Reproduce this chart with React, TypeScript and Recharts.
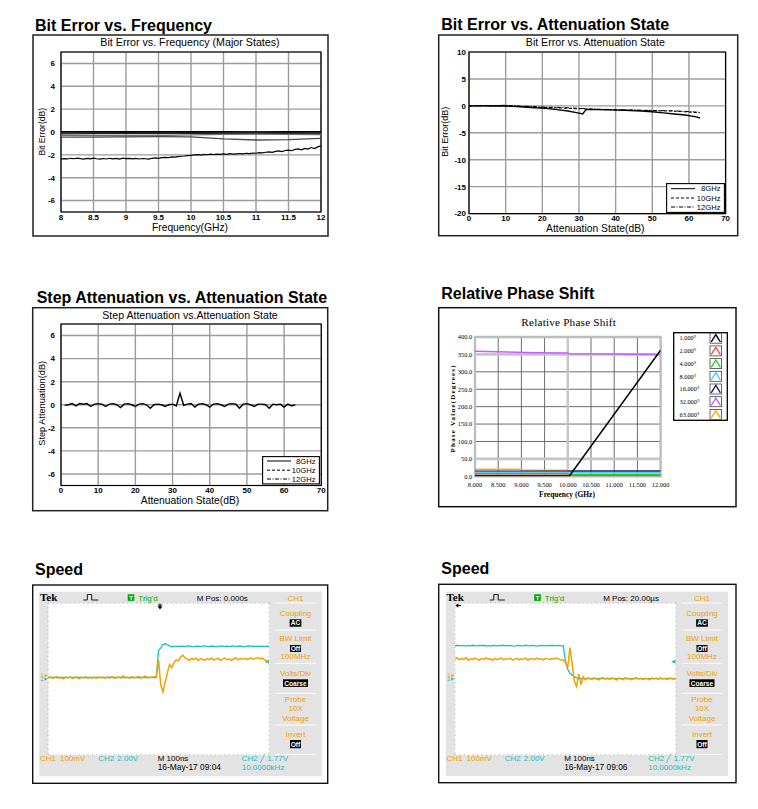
import React from 'react';
import { LineChart, Line, XAxis, YAxis, CartesianGrid, ReferenceArea, ReferenceLine, Legend } from 'recharts';

const SANS = '"Liberation Sans", Arial, Helvetica, sans-serif';
const SERIF = '"Liberation Serif", "Times New Roman", serif';
const ORANGE = '#f2a100';
const CYAN = '#1dbdbd';
const MENU_ORANGE = '#f0a000';
const TRIG_GREEN = '#00a800';

// ---------- Chart 1: Bit Error vs. Frequency ----------
const freqTicks = [8, 8.5, 9, 9.5, 10, 10.5, 11, 11.5, 12];
const bitErrTicks = [-6, -4, -2, 0, 2, 4, 6];
const freqCoarse = [8, 8.5, 9, 9.5, 10, 10.5, 11, 11.5, 12];
const majorState0 = [0.03, 0.02, 0.03, 0.02, 0.03, 0.02, 0.01, 0.02, 0.03];
const majorState1 = [-0.07, -0.08, -0.06, -0.07, -0.06, -0.08, -0.07, -0.06, -0.07];
const majorState2 = [-0.16, -0.15, -0.14, -0.13, -0.12, -0.13, -0.14, -0.13, -0.12];
const majorState3 = [-0.3, -0.32, -0.33, -0.31, -0.26, -0.2, -0.18, -0.2, -0.22];
const majorState4 = [-0.45, -0.44, -0.42, -0.4, -0.42, -0.6, -0.7, -0.66, -0.55];
const freqFineStart = 8;
const freqFineStep = 0.05;
const majorState5 = [
  -2.38, -2.33, -2.36, -2.3, -2.34, -2.28, -2.33, -2.37, -2.31, -2.35,
  -2.29, -2.34, -2.38, -2.32, -2.36, -2.3, -2.35, -2.31, -2.37, -2.29,
  -2.33, -2.3, -2.35, -2.31, -2.36, -2.32, -2.34, -2.38, -2.3, -2.27,
  -2.31, -2.24, -2.22, -2.25, -2.18, -2.2, -2.15, -2.12, -2.1, -2.06,
  -2.04, -2.01, -1.98, -2.02, -1.96, -1.99, -1.94, -1.97, -1.93, -1.96,
  -1.92, -1.95, -1.9, -1.94, -1.91, -1.88, -1.92, -1.86, -1.89, -1.84,
  -1.86, -1.8, -1.83, -1.77, -1.74, -1.78, -1.7, -1.66, -1.71, -1.62,
  -1.58, -1.64, -1.52, -1.48, -1.56, -1.43, -1.5, -1.36, -1.45, -1.3,
  -1.22,
];

// ---------- Chart 2: Bit Error vs. Attenuation State ----------
const attTicks = [0, 10, 20, 30, 40, 50, 60, 70];
const bitErrAttTicks = [-20, -15, -10, -5, 0, 5, 10];
const att8Ghz = [0, 3, 6, 9, 12, 15, 18, 21, 24, 27, 30, 31, 32, 35, 38, 41, 44, 47, 50, 53, 56, 59, 62, 63];
const bitErr8Ghz = [-0.05, 0.05, -0.02, 0.02, -0.1, -0.2, -0.35, -0.45, -0.7, -0.95, -1.35, -1.5, -0.65, -0.7, -0.75, -0.8, -0.85, -0.95, -1.1, -1.3, -1.5, -1.7, -2.05, -2.25];
const att10Ghz = [0, 5, 10, 15, 20, 25, 30, 31, 32, 40, 50, 55, 60, 63];
const bitErr10Ghz = [-0.02, 0.03, 0.05, -0.15, -0.3, -0.4, -0.55, -0.5, -0.6, -0.75, -0.9, -0.95, -1.15, -1.3];
const att12Ghz = [0, 5, 10, 15, 20, 25, 30, 32, 40, 50, 55, 60, 63];
const bitErr12Ghz = [0, 0.05, 0.1, -0.05, -0.2, -0.3, -0.45, -0.55, -0.7, -0.85, -0.9, -1.05, -1.2];
const freqLegendNames = ['8GHz', '10GHz', '12GHz'];
const freqLegendDash = ['', '3 2', '4 1.5 1 1.5'];

// ---------- Chart 3: Step Attenuation vs. Attenuation State ----------
const stepTicksY = [-6, -4, -2, 0, 2, 4, 6];
const stepFirstState = 1;
const stepErr8Ghz = [
  -0.05, 0.0, 0.1, -0.1, 0.1, 0.05, 0.1, -0.15, 0.05, 0.1,
  0.05, -0.15, 0.05, 0.1, 0.0, -0.25, 0.05, 0.1, 0.0, -0.15,
  0.05, 0.1, 0.0, -0.3, 0.0, 0.05, 0.0, -0.15, 0.0, 0.05,
  -0.1, 1.0, -0.05, 0.05, 0.1, -0.2, 0.05, 0.1, 0.0, -0.2,
  0.05, 0.1, 0.0, -0.15, 0.05, 0.1, 0.05, -0.3, 0.05, 0.1,
  0.0, -0.15, 0.05, 0.05, 0.0, -0.3, 0.05, 0.0, 0.05, -0.2,
  0.05, -0.1, 0.0,
];

// ---------- Chart 4: Relative Phase Shift ----------
const phaseFreqTicks = [8, 8.5, 9, 9.5, 10, 10.5, 11, 11.5, 12];
const phaseTicks = [0, 50, 100, 150, 200, 250, 300, 350, 400];
const phaseNames = ['1.000°', '2.000°', '4.000°', '8.000°', '16.000°', '32.000°', '63.000°'];
const phaseColors = ['#000000', '#ff4a4a', '#22d022', '#5ac8ff', '#1c1c70', '#c95cff', '#ffab10'];
const ph1Freq = [8, 10, 10.03, 12];
const ph1Val = [0.5, 0.5, 0, 362];
const ph2Freq = [8, 10, 10.03, 12];
const ph2Val = [3, 3, 1.5, 1.5];
const ph4Freq = [8, 10, 10.03, 12];
const ph4Val = [7.5, 7.5, 5.5, 5.5];
const ph8Freq = [8, 10, 10.03, 12];
const ph8Val = [11.5, 11.5, 10, 10];
const ph16Freq = [8, 10, 10.03, 12];
const ph16Val = [14.5, 14.5, 15, 15];
const ph32Freq = [8, 8.7, 9.3, 10, 10.03, 11, 12];
const ph32Val = [359, 357, 355, 354, 352, 351, 350];
const ph63Freq = [8, 9, 9.02, 10];
const ph63Val = [20, 20, 18, 17.5];

// ---------- Charts 5/6: oscilloscope captures (divisions) ----------
const divTicksX = [0, 1, 2, 3, 4, 5, 6, 7, 8, 9, 10];
const divTicksY = [-4, -3, -2, -1, 0, 1, 2, 3, 4];
const scopeStep = 0.1;
const scope1Ch1 = [
  0.05, 0.1, 0.02, 0.08, 0.12, 0.04, 0.07, 0.0, 0.09, 0.05,
  0.11, 0.03, 0.06, 0.1, 0.01, 0.08, 0.05, 0.12, 0.03, 0.07,
  0.04, 0.09, 0.02, 0.11, 0.06, 0.08, 0.03, 0.1, 0.05, 0.13,
  0.02, 0.07, 0.1, 0.04, 0.15, 0.06, 0.09, 0.02, 0.11, 0.05,
  0.08, 0.12, 0.04, 0.09, 0.14, 0.05, 0.1, 0.07, 0.12, 0.08,
  1.0, -0.3, -0.7, -0.2, 0.3, 0.75, 0.6, 0.85, 1.0, 0.95,
  1.15, 1.25, 1.1, 1.04, 0.98, 1.08, 1.02, 1.1, 0.96, 1.06,
  1.03, 0.97, 1.07, 1.01, 1.1, 0.99, 1.05, 1.08, 0.98, 1.04,
  1.09, 1.01, 1.06, 0.97, 1.05, 1.1, 1.0, 1.07, 1.03, 1.08,
  1.02, 1.06, 1.11, 1.04, 1.08, 1.12, 1.05, 1.09, 1.0, 0.95,
  0.92,
];
const scope1Ch2 = [
  0.07, 0.07, 0.07, 0.07, 0.07, 0.07, 0.07, 0.07, 0.07, 0.07,
  0.07, 0.07, 0.07, 0.07, 0.07, 0.07, 0.07, 0.07, 0.07, 0.07,
  0.07, 0.07, 0.07, 0.07, 0.07, 0.07, 0.07, 0.07, 0.07, 0.07,
  0.07, 0.07, 0.07, 0.07, 0.07, 0.07, 0.07, 0.07, 0.07, 0.07,
  0.07, 0.07, 0.07, 0.07, 0.07, 0.07, 0.07, 0.07, 0.07, 0.07,
  1.5, 1.62, 1.8, 1.86, 1.8, 1.74, 1.68, 1.72, 1.7, 1.73,
  1.71, 1.73, 1.7, 1.72, 1.74, 1.71, 1.69, 1.72, 1.73, 1.7,
  1.72, 1.74, 1.71, 1.7, 1.73, 1.72, 1.69, 1.71, 1.74, 1.72,
  1.7, 1.73, 1.71, 1.72, 1.74, 1.7, 1.72, 1.73, 1.71, 1.69,
  1.72, 1.74, 1.71, 1.73, 1.7, 1.72, 1.71, 1.73, 1.7, 1.72,
  1.71,
];
const scope2Ch1 = [
  1.05, 1.1, 1.0, 1.08, 1.03, 1.12, 0.98, 1.06, 1.02, 1.09,
  1.04, 0.99, 1.07, 1.01, 1.1, 1.03, 1.06, 0.97, 1.08, 1.02,
  1.05, 1.11, 1.0, 1.06, 1.03, 1.09, 0.99, 1.04, 1.08, 1.01,
  1.06, 1.02, 1.1, 0.98, 1.05, 1.07, 1.01, 1.09, 1.03, 1.06,
  1.0, 1.08, 1.04, 1.02, 1.07, 1.05, 1.1, 1.03, 1.01, 0.98,
  0.9, 0.6, 1.65, 0.8, -0.1, -0.4, 0.25, -0.3, 0.1, -0.05,
  0.05, 0.02, -0.04, 0.06, 0.0, -0.05, 0.03, 0.07, -0.02, 0.04,
  -0.03, 0.05, 0.01, -0.06, 0.04, 0.02, -0.04, 0.06, 0.0, 0.03,
  -0.05, 0.02, 0.06, -0.02, 0.04, -0.04, 0.03, 0.01, -0.05, 0.05,
  0.0, 0.04, -0.03, 0.06, -0.01, 0.03, -0.04, 0.05, 0.02, -0.02,
  0.03,
];
const scope2Ch2 = [
  1.75, 1.77, 1.74, 1.76, 1.75, 1.73, 1.76, 1.74, 1.77, 1.75,
  1.74, 1.76, 1.75, 1.77, 1.74, 1.75, 1.73, 1.76, 1.75, 1.74,
  1.76, 1.75, 1.77, 1.74, 1.75, 1.76, 1.74, 1.73, 1.75, 1.76,
  1.74, 1.75, 1.77, 1.75, 1.74, 1.76, 1.75, 1.73, 1.75, 1.76,
  1.75, 1.74, 1.76, 1.75, 1.77, 1.74, 1.75, 1.76, 1.74, 1.75,
  0.9, 0.5, 0.3, 0.2, 0.1, 0.05, 0.01, 0.01, 0.01, 0.01,
  0.01, 0.01, 0.01, 0.01, 0.01, 0.01, 0.01, 0.01, 0.01, 0.01,
  0.01, 0.01, 0.01, 0.01, 0.01, 0.01, 0.01, 0.01, 0.01, 0.01,
  0.01, 0.01, 0.01, 0.01, 0.01, 0.01, 0.01, 0.01, 0.01, 0.01,
  0.01, 0.01, 0.01, 0.01, 0.01, 0.01, 0.01, 0.01, 0.01, 0.01,
  0.01,
];

// ---------- tables ----------
const pairs = (xs: number[], ys: number[]) => xs.map((x, i) => ({ x, y: ys[i] }));
const c1Lines = [majorState0, majorState1, majorState2, majorState3, majorState4].map((ys) => pairs(freqCoarse, ys));
const c1Colors = ['#000', '#111', '#222', '#6e6e6e', '#4a4a4a'];
const c1Noisy = majorState5.map((y, i) => ({ x: freqFineStart + i * freqFineStep, y }));
const c2Tables = [pairs(att8Ghz, bitErr8Ghz), pairs(att10Ghz, bitErr10Ghz), pairs(att12Ghz, bitErr12Ghz)];
const c3Table = stepErr8Ghz.map((y, i) => ({ x: stepFirstState + i, y }));
const phaseTables = [
  pairs(ph63Freq, ph63Val),
  pairs(ph16Freq, ph16Val),
  pairs(ph8Freq, ph8Val),
  pairs(ph4Freq, ph4Val),
  pairs(ph2Freq, ph2Val),
  pairs(ph32Freq, ph32Val),
  pairs(ph1Freq, ph1Val),
];
const phaseTableColors = [phaseColors[6], phaseColors[4], phaseColors[3], phaseColors[2], phaseColors[1], phaseColors[5], phaseColors[0]];
const scopeTable = (vals: number[]) => vals.map((v, i) => ({ x: i * scopeStep, y: v }));

const tickStyle = { fontSize: 8, fontFamily: SANS, fontWeight: 700, fill: '#000' };
const phaseTickStyle = { fontSize: 6.4, fontFamily: SERIF, fill: '#000' };

const FreqLegend = ({ w, h, rows }: { w: number; h: number; rows: number[] }) => (
  <svg width={w} height={h} style={{ display: 'block' }}>
    <rect x={0.6} y={0.6} width={w - 1.2} height={h - 1.2} fill="#fff" stroke="#000" strokeWidth={1.1} />
    {freqLegendNames.map((n, i) => (
      <g key={n}>
        <line x1={5} x2={29} y1={rows[i]} y2={rows[i]} stroke="#000" strokeWidth={1} strokeDasharray={freqLegendDash[i] || undefined} />
        <text x={w - 4.5} y={rows[i] + 2.7} textAnchor="end" fontSize={7.6} fontFamily={SANS} fill="#000">{n}</text>
      </g>
    ))}
  </svg>
);

const PhaseLegend = () => (
  <svg width={55} height={89} style={{ display: 'block' }}>
    <rect x={0.7} y={0.7} width={53.6} height={87.6} fill="#fff" stroke="#000" strokeWidth={1.3} />
    {phaseNames.map((n, i) => {
      const cy = 6.2 + i * 12.7;
      return (
        <g key={n}>
          <text x={6.6} y={cy + 2.2} fontSize={6.3} fontFamily={SERIF} fill="#000">{n}</text>
          <rect x={37} y={cy - 5} width={11.6} height={10} fill="#fff" stroke="#444" strokeWidth={0.8} />
          <polyline points={`38.2,${cy + 3.8} 42.8,${cy - 3.6} 47.4,${cy + 3.8}`} fill="none" stroke={phaseColors[i]} strokeWidth={1.4} />
        </g>
      );
    })}
  </svg>
);

function ScopeDecor({ dx, mpos, date, leftArrow }: { dx: number; mpos: string; date: string; leftArrow: boolean }) {
  const X = (v: number) => v + dx;
  const cx = X(295.5);
  const mt = (t: string, y: number) => (
    <text x={cx} y={y} textAnchor="middle" fontSize={8} fill={MENU_ORANGE}>{t}</text>
  );
  const box = (t: string, y: number, w: number, h: number) => (
    <g>
      <rect x={cx - w / 2} y={y} width={w} height={h} fill="#000" />
      <text x={cx} y={y + h - 1.4} textAnchor="middle" fontSize={6.6} fontWeight={700} fill="#fff">{t}</text>
    </g>
  );
  const sep = (y: number) => <line x1={X(275)} x2={X(316)} y1={y} y2={y} stroke="#fbfbfb" strokeWidth={1} />;
  return (
    <g fontFamily={SANS}>
      <rect x={X(39.3)} y={591.7} width={282.4} height={184.5} fill="#e3e3e3" />
      <rect x={X(48.3)} y={603.3} width={221} height={151.7} fill="#fff" />
      <text x={X(40)} y={600.7} fontSize={11} fontWeight={700} fontFamily={SERIF} fill="#000">Tek</text>
      <polyline points={`${X(83.3)},600 ${X(87.3)},600 ${X(87.3)},594.5 ${X(91.7)},594.5 ${X(91.7)},600 ${X(98.3)},600`} fill="none" stroke="#000" strokeWidth={0.9} />
      <rect x={X(127.7)} y={594.3} width={6.6} height={6.6} fill={TRIG_GREEN} />
      <text x={X(131)} y={599.9} textAnchor="middle" fontSize={6} fontWeight={700} fill="#fff">T</text>
      <text x={X(138.3)} y={600.7} fontSize={8} fill={TRIG_GREEN}>Trig'd</text>
      <text x={X(196.7)} y={600.7} fontSize={8} fill="#000">{mpos}</text>
      {mt('CH1', 600.5)}
      {sep(603)}
      {mt('Coupling', 615.7)}
      {box('AC', 619.3, 11.7, 7.4)}
      {sep(630)}
      {mt('BW Limit', 641)}
      {box('Off', 645, 11, 7)}
      {mt('100MHz', 659)}
      {sep(663.3)}
      {mt('Volts/Div', 675.7)}
      {box('Coarse', 679.3, 25, 7.6)}
      {sep(693.3)}
      {mt('Probe', 701.7)}
      {mt('10X', 711)}
      {mt('Voltage', 720.7)}
      {sep(725)}
      {mt('Invert', 736.7)}
      {box('Off', 740, 11, 8.2)}
      {sep(754.3)}
      <text x={X(40)} y={761} fontSize={8} fill={MENU_ORANGE}>CH1</text>
      <text x={X(60)} y={761} fontSize={8} fill={MENU_ORANGE}>100mV</text>
      <text x={X(98.3)} y={761} fontSize={8} fill={CYAN}>CH2</text>
      <text x={X(117.3)} y={761} fontSize={8} fill={CYAN}>2.00V</text>
      <text x={X(157.7)} y={761} fontSize={8} fill="#000">M 100ns</text>
      <text x={X(157.7)} y={770} fontSize={8.4} fill="#000">{date}</text>
      <text x={X(241.7)} y={761} fontSize={8} fill={CYAN}>CH2 ╱ 1.77V</text>
      <text x={X(241.7)} y={770} fontSize={8} fill={CYAN}>10.0000kHz</text>
      {/* channel ground markers */}
      <text x={X(40.6)} y={676.6} fontSize={5.5} fill={ORANGE}>1</text>
      <polygon points={`${X(44.6)},673.9 ${X(47.8)},675.4 ${X(44.6)},676.9`} fill={ORANGE} />
      <text x={X(40.6)} y={681.4} fontSize={5.5} fill={CYAN}>2</text>
      <polygon points={`${X(44.6)},677.6 ${X(47.8)},679.1 ${X(44.6)},680.6`} fill={CYAN} />
      {/* trigger level */}
      <polygon points={`${X(264.6)},661.7 ${X(269)},659.6 ${X(269)},663.8`} fill={CYAN} />
      {leftArrow ? (
        <g>
          <line x1={X(49.5)} x2={X(54.5)} y1={605.5} y2={605.5} stroke="#000" strokeWidth={1} />
          <polygon points={`${X(48.8)},605.5 ${X(51.8)},603.3 ${X(51.8)},607.7`} fill="#000" />
        </g>
      ) : (
        <g>
          <line x1={X(160)} x2={X(160)} y1={603.5} y2={607} stroke="#000" strokeWidth={1} />
          <line x1={X(157.6)} x2={X(162.4)} y1={605} y2={605} stroke="#000" strokeWidth={0.8} />
          <polygon points={`${X(157.6)},606.3 ${X(162.4)},606.3 ${X(160)},609.4`} fill="#000" />
        </g>
      )}
    </g>
  );
}

function ScopeChart({ left, ch1, ch2 }: { left: number; ch1: number[]; ch2: number[] }) {
  return (
    <div style={{ position: 'absolute', left, top: 593.3 }}>
      <LineChart width={241} height={171.7} margin={{ top: 10, right: 10, bottom: 10, left: 10 }}>
        <CartesianGrid stroke="#ababab" strokeWidth={0.9} strokeDasharray="1 3.4" />
        <XAxis type="number" dataKey="x" domain={[0, 10]} ticks={divTicksX} height={0} tick={false} axisLine={false} tickLine={false} allowDataOverflow />
        <YAxis type="number" domain={[-4, 4]} ticks={divTicksY} width={0} tick={false} axisLine={false} tickLine={false} allowDataOverflow />
        <Line data={scopeTable(ch2)} dataKey="y" type="linear" stroke={CYAN} strokeWidth={1.3} dot={false} isAnimationActive={false} />
        <Line data={scopeTable(ch1)} dataKey="y" type="linear" stroke={ORANGE} strokeWidth={1.5} dot={false} isAnimationActive={false} />
      </LineChart>
    </div>
  );
}

const Heading = ({ x, y, t }: { x: number; y: number; t: string }) => (
  <text x={x} y={y} fontSize={16} fontWeight={700} fontFamily={SANS} fill="#000">{t}</text>
);

export default function App() {
  return (
    <div style={{ position: 'absolute', left: 0, top: 0, width: 758, height: 809, background: '#fff', overflow: 'hidden' }}>
      <svg width={758} height={809} style={{ position: 'absolute', left: 0, top: 0 }}>
        <rect x={33} y={35} width={295} height={201} fill="#fff" stroke="#222" strokeWidth={1.5} />
        <rect x={438.7} y={35} width={299} height={200.7} fill="#fff" stroke="#222" strokeWidth={1.5} />
        <rect x={32.7} y={307.7} width={295} height={203} fill="#fff" stroke="#222" strokeWidth={1.5} />
        <rect x={438.7} y={307.7} width={297.3} height={199} fill="#fff" stroke="#111" strokeWidth={1.5} />
        <rect x={32.7} y={585} width={295} height={198.3} fill="#fff" stroke="#111" strokeWidth={1.4} />
        <rect x={438.7} y={584.3} width={297.3} height={198.4} fill="#fff" stroke="#111" strokeWidth={1.4} />

        <Heading x={35} y={30.7} t="Bit Error vs. Frequency" />
        <Heading x={441.3} y={30} t="Bit Error vs. Attenuation State" />
        <Heading x={36.7} y={303.3} t="Step Attenuation vs. Attenuation State" />
        <Heading x={441.3} y={299} t="Relative Phase Shift" />
        <Heading x={35} y={575} t="Speed" />
        <Heading x={441.3} y={573.5} t="Speed" />

        <g fontFamily={SANS} fill="#000">
          <text x={190} y={46} fontSize={10.7} textAnchor="middle">Bit Error vs. Frequency (Major States)</text>
          <text x={595.3} y={45.7} fontSize={10.6} textAnchor="middle">Bit Error vs. Attenuation State</text>
          <text x={190} y={319} fontSize={10.6} textAnchor="middle">Step Attenuation vs.Attenuation State</text>
          <text x={190} y={230.8} fontSize={10.3} textAnchor="middle">Frequency(GHz)</text>
          <text x={595.3} y={231.6} fontSize={10.3} textAnchor="middle">Attenuation State(dB)</text>
          <text x={190} y={503.6} fontSize={10.3} textAnchor="middle">Attenuation State(dB)</text>
          <text x={44.9} y={131.7} fontSize={8.6} textAnchor="middle" transform="rotate(-90 44.9 131.7)">Bit Error(dB)</text>
          <text x={448.5} y={131.7} fontSize={9} textAnchor="middle" transform="rotate(-90 448.5 131.7)">Bit Error(dB)</text>
          <text x={44.9} y={403.3} fontSize={9.2} textAnchor="middle" transform="rotate(-90 44.9 403.3)">Step Attenuation(dB)</text>
        </g>
        <g fontFamily={SERIF} fill="#000">
          <text x={568.7} y={326} fontSize={11.2} textAnchor="middle" letterSpacing={0.2}>Relative Phase Shift</text>
          <text x={455.2} y={408.3} fontSize={7} fontWeight={700} textAnchor="middle" letterSpacing={1.2} transform="rotate(-90 455.2 408.3)">Phase Value(Degrees)</text>
          <text x={567} y={497.3} fontSize={7.5} fontWeight={700} textAnchor="middle">Frequency (GHz)</text>
        </g>

        <ScopeDecor dx={0} mpos="M Pos: 0.000s" date="16-May-17 09:04" leftArrow={false} />
        <ScopeDecor dx={406.5} mpos="M Pos: 20.00µs" date="16-May-17 09:06" leftArrow={true} />
      </svg>

      {/* Chart 1 */}
      <div style={{ position: 'absolute', left: 21, top: 42 }}>
        <LineChart width={310} height={200} margin={{ top: 10, right: 10, bottom: 10, left: 10 }}>
          <CartesianGrid stroke="#9c9c9c" strokeWidth={1.4} />
          <XAxis type="number" dataKey="x" domain={[8, 12]} ticks={freqTicks} interval={0} height={20} axisLine={false} tickLine={false} tickSize={2} tickMargin={0} tick={tickStyle} allowDataOverflow />
          <YAxis type="number" domain={[-7, 7]} ticks={bitErrTicks} interval={0} width={30} axisLine={false} tickLine={false} tickSize={3} tickMargin={3} tick={tickStyle} allowDataOverflow />
          {c1Lines.map((d, i) => (
            <Line key={i} data={d} dataKey="y" type="linear" stroke={c1Colors[i]} strokeWidth={1.3} dot={false} isAnimationActive={false} />
          ))}
          <Line data={c1Noisy} dataKey="y" type="linear" stroke="#000" strokeWidth={1.2} dot={false} isAnimationActive={false} />
          <ReferenceArea x1={8} x2={12} y1={-7} y2={7} fill="none" stroke="#000" strokeWidth={1.2} />
        </LineChart>
      </div>

      {/* Chart 2 */}
      <div style={{ position: 'absolute', left: 428.7, top: 41.7 }}>
        <LineChart width={306.6} height={201.6} margin={{ top: 10, right: 10, bottom: 10, left: 10 }}>
          <CartesianGrid stroke="#9c9c9c" strokeWidth={1.4} />
          <XAxis type="number" dataKey="x" domain={[0, 70]} ticks={attTicks} interval={0} height={20} axisLine={false} tickLine={false} tickSize={1.5} tickMargin={0} tick={tickStyle} allowDataOverflow />
          <YAxis type="number" domain={[-20, 10]} ticks={bitErrAttTicks} interval={0} width={30} axisLine={false} tickLine={false} tickSize={1.5} tickMargin={1.5} tick={tickStyle} allowDataOverflow />
          {c2Tables.map((d, i) => (
            <Line key={i} data={d} dataKey="y" name={freqLegendNames[i]} type="linear" stroke="#000" strokeWidth={i === 0 ? 1.4 : 1} strokeDasharray={freqLegendDash[i] || undefined} dot={false} isAnimationActive={false} />
          ))}
          <ReferenceArea x1={0} x2={70} y1={-20} y2={10} fill="none" stroke="#000" strokeWidth={1.2} />
          <Legend layout="vertical" align="center" verticalAlign="middle" content={() => <FreqLegend w={59} h={30} rows={[5.7, 15, 24]} />} wrapperStyle={{ position: 'absolute', left: 237.6, top: 141.6, width: 59, height: 30 }} />
        </LineChart>
      </div>

      {/* Chart 3 */}
      <div style={{ position: 'absolute', left: 20.7, top: 313.5 }}>
        <LineChart width={310.3} height={201.5} margin={{ top: 10, right: 10, bottom: 10, left: 10 }}>
          <CartesianGrid stroke="#9c9c9c" strokeWidth={1.4} />
          <XAxis type="number" dataKey="x" domain={[0, 70]} ticks={attTicks} interval={0} height={20} axisLine={false} tickLine={false} tickSize={1.5} tickMargin={0.5} tick={tickStyle} allowDataOverflow />
          <YAxis type="number" domain={[-7, 7]} ticks={stepTicksY} interval={0} width={30} axisLine={false} tickLine={false} tickSize={3} tickMargin={3} tick={tickStyle} allowDataOverflow />
          <Line data={c3Table} dataKey="y" name="8GHz" type="linear" stroke="#000" strokeWidth={1.4} dot={false} isAnimationActive={false} />
          <ReferenceArea x1={0} x2={70} y1={-7} y2={7} fill="none" stroke="#000" strokeWidth={1.2} />
          <Legend layout="vertical" align="center" verticalAlign="middle" content={() => <FreqLegend w={58} h={28.5} rows={[5, 14.2, 23]} />} wrapperStyle={{ position: 'absolute', left: 241.3, top: 142.5, width: 58, height: 28.5 }} />
        </LineChart>
      </div>

      {/* Chart 4 */}
      <div style={{ position: 'absolute', left: 434.7, top: 326.7 }}>
        <LineChart width={311.3} height={179.3} margin={{ top: 10, right: 85.7, bottom: 10, left: 10 }}>
          <CartesianGrid stroke="#5c5c5c" strokeWidth={0.9} />
          <ReferenceLine y={50} stroke="#c6c6c6" strokeWidth={2.6} />
          <ReferenceLine y={350} stroke="#c6c6c6" strokeWidth={2.6} />
          <ReferenceLine x={10} stroke="#c6c6c6" strokeWidth={2.4} />
          <XAxis type="number" dataKey="x" domain={[8, 12]} ticks={phaseFreqTicks} interval={0} height={20} axisLine={false} tickLine={false} tickSize={4} tickMargin={2} tick={phaseTickStyle} tickFormatter={(v: number) => v.toFixed(3)} allowDataOverflow />
          <YAxis type="number" domain={[0, 400]} ticks={phaseTicks} interval={0} width={30} axisLine={false} tickLine={false} tickSize={1} tickMargin={1.8} tick={phaseTickStyle} tickFormatter={(v: number) => v.toFixed(1)} allowDataOverflow />
          <ReferenceArea x1={8} x2={12} y1={0} y2={400} fill="none" stroke="#bdbdbd" strokeWidth={2.4} />
          {phaseTables.map((d, i) => (
            <Line key={i} data={d} dataKey="y" type="linear" stroke={phaseTableColors[i]} strokeWidth={1.5} dot={false} isAnimationActive={false} />
          ))}
          <Legend layout="vertical" align="center" verticalAlign="middle" content={() => <PhaseLegend />} wrapperStyle={{ position: 'absolute', left: 238, top: 5, width: 55, height: 89 }} />
        </LineChart>
      </div>

      <ScopeChart left={38.3} ch1={scope1Ch1} ch2={scope1Ch2} />
      <ScopeChart left={444.7} ch1={scope2Ch1} ch2={scope2Ch2} />
    </div>
  );
}
